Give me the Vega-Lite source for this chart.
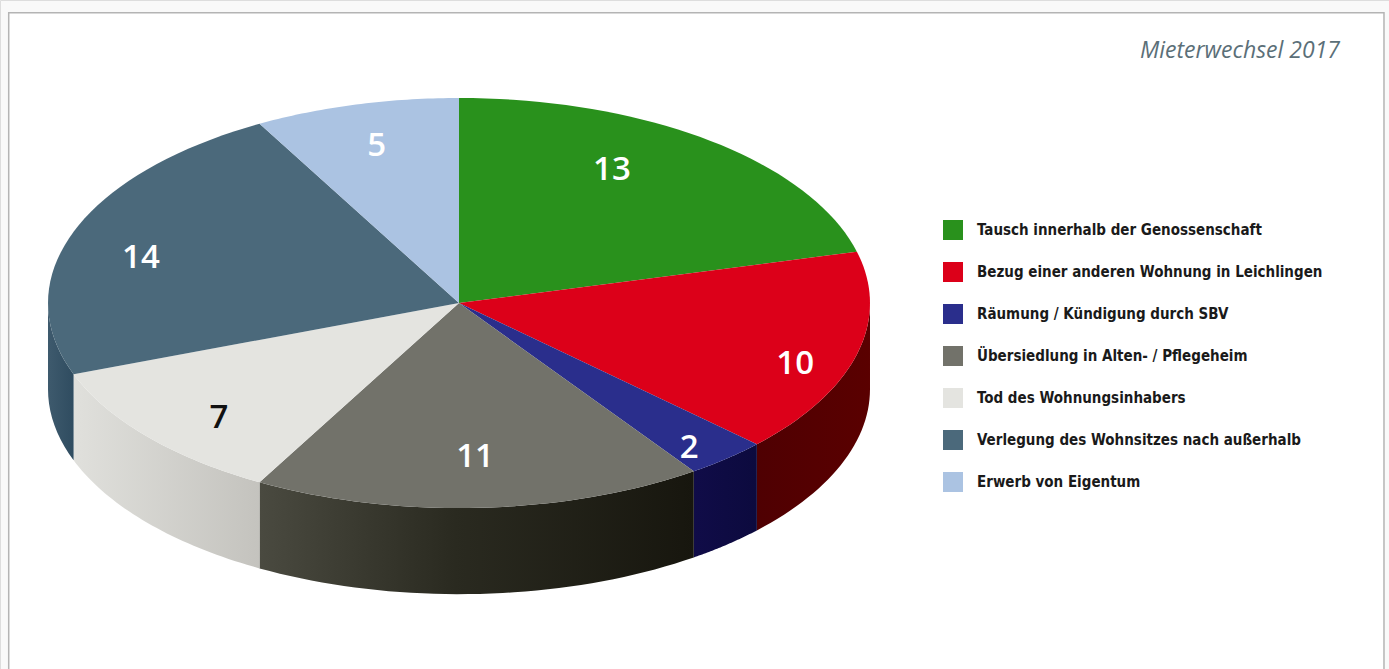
{
  "$schema": "https://vega.github.io/schema/vega-lite/v6.json",
  "autosize": {"type": "fit", "contains": "padding"},
  "width": 1389,
  "height": 669,
  "padding": 0,
  "background": "#f9f9f9",
  "data": {
    "values": [
      {"slice": 0, "label": "Tausch innerhalb der Genossenschaft", "value": 13},
      {"slice": 1, "label": "Bezug einer anderen Wohnung in Leichlingen", "value": 10},
      {"slice": 2, "label": "Räumung / Kündigung durch SBV", "value": 2},
      {"slice": 3, "label": "Übersiedlung in Alten- / Pflegeheim", "value": 11},
      {"slice": 4, "label": "Tod des Wohnungsinhabers", "value": 7},
      {"slice": 5, "label": "Verlegung des Wohnsitzes nach außerhalb", "value": 14},
      {"slice": 6, "label": "Erwerb von Eigentum", "value": 5}
    ]
  },
  "transform": [
    {"window": [{"op": "sum", "field": "value", "as": "cum"}], "sort": [{"field": "slice"}], "frame": [null, 0]},
    {"joinaggregate": [{"op": "sum", "field": "value", "as": "total"}]},
    {"calculate": "(datum.cum - datum.value) / datum.total * 2 * PI", "as": "start"},
    {"calculate": "datum.cum / datum.total * 2 * PI", "as": "end"},
    {"calculate": "[-1,0,0.025,0.05,0.075,0.1,0.125,0.15,0.175,0.2,0.225,0.25,0.275,0.3,0.325,0.35,0.375,0.4,0.425,0.45,0.475,0.5,0.525,0.55,0.575,0.6,0.625,0.65,0.675,0.7,0.725,0.75,0.775,0.8,0.825,0.85,0.875,0.9,0.925,0.95,0.975,1]", "as": "t"},
    {"flatten": ["t"]},
    {"calculate": "datum.start + (datum.end - datum.start) * datum.t", "as": "a"},
    {"calculate": "datum.t < 0 ? 0 : sin(datum.a)", "as": "ux"},
    {"calculate": "datum.t < 0 ? 0 : cos(datum.a)", "as": "uy"},
    {"calculate": "clamp(datum.a, PI / 2, 3 * PI / 2)", "as": "wa"},
    {"calculate": "sin(datum.wa)", "as": "wx"},
    {"calculate": "cos(datum.wa)", "as": "wy"},
    {"calculate": "datum.wy - 0.42", "as": "wy2"}
  ],
  "encoding": {
    "x": {"field": "wx", "type": "quantitative", "axis": null, "scale": {"domain": [-1.1168, 2.2628], "nice": false, "zero": false}},
    "y": {"field": "wy", "type": "quantitative", "axis": null, "scale": {"domain": [-1.785, 1.478], "nice": false, "zero": false}}
  },
  "layer": [
    {
      "transform": [{"filter": "datum.slice == 0 && datum.t == -1"}],
      "mark": {"type": "rect", "fill": "#ffffff", "stroke": "#b4b4b4", "strokeWidth": 1.5, "clip": true},
      "encoding": {
        "x": {"datum": -1.0956},
        "x2": {"datum": 2.2506},
        "y": {"datum": 1.416},
        "y2": {"datum": -1.9}
      }
    },
    {
      "transform": [{"filter": "datum.t >= 0 && datum.slice == 1"}],
      "mark": {"type": "area", "fill": {"x1": 0, "x2": 1, "y1": 0, "y2": 0, "gradient": "linear", "stops": [{"offset": 0, "color": "#4f0002"}, {"offset": 1, "color": "#5a0000"}]}},
      "encoding": {"y2": {"field": "wy2"}}
    },
    {
      "transform": [{"filter": "datum.t >= 0 && datum.slice == 2"}],
      "mark": {"type": "area", "fill": {"x1": 0, "x2": 1, "y1": 0, "y2": 0, "gradient": "linear", "stops": [{"offset": 0, "color": "#100c48"}, {"offset": 1, "color": "#0c0a3e"}]}},
      "encoding": {"y2": {"field": "wy2"}}
    },
    {
      "transform": [{"filter": "datum.t >= 0 && datum.slice == 3"}],
      "mark": {"type": "area", "fill": {"x1": 0, "x2": 1, "y1": 0, "y2": 0, "gradient": "linear", "stops": [{"offset": 0, "color": "#4a4a40"}, {"offset": 0.45, "color": "#2a2a20"}, {"offset": 1, "color": "#17160e"}]}},
      "encoding": {"y2": {"field": "wy2"}}
    },
    {
      "transform": [{"filter": "datum.t >= 0 && datum.slice == 4"}],
      "mark": {"type": "area", "fill": {"x1": 0, "x2": 1, "y1": 0, "y2": 0, "gradient": "linear", "stops": [{"offset": 0, "color": "#e0e0dc"}, {"offset": 1, "color": "#c4c3be"}]}},
      "encoding": {"y2": {"field": "wy2"}}
    },
    {
      "transform": [{"filter": "datum.t >= 0 && datum.slice == 5"}],
      "mark": {"type": "area", "fill": {"x1": 0, "x2": 1, "y1": 0, "y2": 0, "gradient": "linear", "stops": [{"offset": 0, "color": "#3e5a6d"}, {"offset": 1, "color": "#2f4c60"}]}},
      "encoding": {"y2": {"field": "wy2"}}
    },
    {
      "mark": {"type": "line", "filled": true, "strokeWidth": 0},
      "encoding": {
        "x": {"field": "ux", "type": "quantitative"},
        "y": {"field": "uy", "type": "quantitative"},
        "order": {"field": "t", "type": "quantitative"},
        "fill": {
          "field": "label",
          "type": "nominal",
          "scale": {
            "domain": [
              "Tausch innerhalb der Genossenschaft",
              "Bezug einer anderen Wohnung in Leichlingen",
              "Räumung / Kündigung durch SBV",
              "Übersiedlung in Alten- / Pflegeheim",
              "Tod des Wohnungsinhabers",
              "Verlegung des Wohnsitzes nach außerhalb",
              "Erwerb von Eigentum"
            ],
            "range": ["#29911c", "#dc0019", "#2a2e8c", "#72726a", "#e4e4e0", "#4b697b", "#abc3e2"]
          },
          "legend": {
            "orient": "none",
            "legendX": 943,
            "legendY": 220,
            "title": null,
            "symbolType": "square",
            "symbolSize": 400,
            "symbolStrokeWidth": 0,
            "rowPadding": 22,
            "labelFont": "DejaVu Sans Condensed",
            "labelFontWeight": "bold",
            "labelFontSize": 15,
            "labelColor": "#1a1a1a",
            "labelOffset": 14,
            "labelLimit": 420
          }
        }
      }
    },
    {
      "transform": [
        {"filter": "datum.t == -1"},
        {"calculate": "[0.372,0.818,0.560,0.039,-0.584,-0.774,-0.200][datum.slice]", "as": "lx"},
        {"calculate": "[0.659,-0.288,-0.698,-0.741,-0.551,0.229,0.776][datum.slice]", "as": "ly"}
      ],
      "mark": {"type": "text", "font": "Open Sans", "fontWeight": 600, "fontSize": 33, "baseline": "middle", "align": "center", "dy": 2},
      "encoding": {
        "x": {"field": "lx", "type": "quantitative"},
        "y": {"field": "ly", "type": "quantitative"},
        "text": {"field": "value", "type": "quantitative"},
        "color": {"condition": {"test": "datum.value == 7", "value": "#111111"}, "value": "#ffffff"}
      }
    },
    {
      "transform": [{"filter": "datum.slice == 0 && datum.t == -1"}],
      "mark": {"type": "text", "text": "Mieterwechsel 2017", "font": "Open Sans", "fontStyle": "italic", "fontSize": 23, "color": "#5b6f78", "align": "right", "baseline": "middle", "dy": 2},
      "encoding": {
        "x": {"datum": 2.1436},
        "y": {"datum": 1.239}
      }
    }
  ]
}
